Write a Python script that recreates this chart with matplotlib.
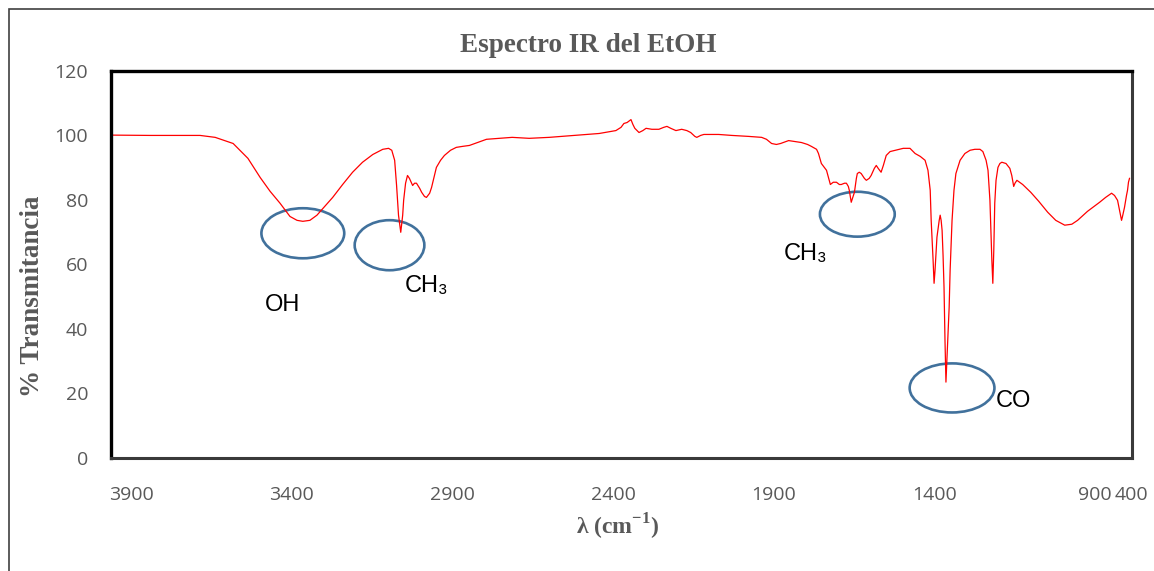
import numpy as np
import matplotlib
matplotlib.use("Agg")
import matplotlib.pyplot as plt
from matplotlib.patches import Ellipse, Rectangle

plt.rcParams["mathtext.fontset"] = "custom"
plt.rcParams["mathtext.rm"] = "Liberation Serif"
plt.rcParams["mathtext.bf"] = "Liberation Serif:bold"

# spectrum (cm-1 as shown on the axis, % transmittance)
wavenumber = [3965, 3841, 3686, 3639, 3583, 3537, 3499, 3468, 3437, 3406,
              3384, 3366, 3344, 3322, 3298, 3273, 3242, 3211, 3180, 3148,
              3117, 3099, 3089, 3080, 3074, 3068, 3061, 3055, 3052, 3046,
              3040, 3034, 3024, 3018, 3012, 3002, 2996, 2987, 2981, 2971,
              2965, 2956, 2950, 2937, 2925, 2906, 2888, 2869, 2847, 2822,
              2794, 2754, 2714, 2661, 2599, 2521, 2443, 2391, 2375, 2366,
              2356, 2344, 2338, 2332, 2319, 2307, 2297, 2279, 2257, 2242,
              2232, 2220, 2204, 2186, 2170, 2158, 2145, 2139, 2127, 2117,
              2071, 2030, 1978, 1937, 1922, 1906, 1891, 1878, 1853, 1832,
              1813, 1794, 1782, 1766, 1760, 1751, 1742, 1735, 1729, 1723,
              1714, 1704, 1695, 1689, 1679, 1673, 1667, 1664, 1658, 1652,
              1648, 1642, 1639, 1633, 1627, 1617, 1611, 1602, 1596, 1586,
              1580, 1574, 1565, 1558, 1549, 1537, 1521, 1496, 1475, 1459,
              1443, 1428, 1419, 1412, 1409, 1403, 1400, 1397, 1391, 1384,
              1381, 1378, 1375, 1372, 1369, 1366, 1363, 1360, 1356, 1353,
              1350, 1344, 1338, 1332, 1319, 1304, 1288, 1273, 1257, 1248,
              1238, 1232, 1226, 1223, 1220, 1217, 1214, 1211, 1207, 1201,
              1195, 1189, 1176, 1164, 1158, 1152, 1148, 1142, 1124, 1099,
              1074, 1046, 1021, 993, 971, 953, 922, 832, 751, 670,
              630, 589, 562, 535, 522, 495, 468, 454, 441, 427]
transmittance = [100.0, 99.9, 99.9, 99.3, 97.4, 92.8, 86.9, 82.6, 78.9, 74.8,
                 73.6, 73.3, 73.6, 75.2, 77.9, 80.7, 84.7, 88.5, 91.6, 94.0,
                 95.6, 95.9, 95.3, 92.2, 84.4, 75.2, 69.9, 75.2, 79.8, 85.1,
                 87.5, 86.6, 84.4, 85.1, 85.1, 83.5, 82.3, 81.0, 80.7, 82.0,
                 83.8, 87.5, 90.0, 92.2, 93.7, 95.3, 96.2, 96.5, 96.8, 97.7,
                 98.7, 99.0, 99.3, 99.0, 99.3, 99.9, 100.5, 101.4, 102.4, 103.6,
                 103.9, 104.8, 103.3, 102.1, 100.8, 101.4, 102.1, 101.8, 101.8, 102.4,
                 102.7, 102.1, 101.4, 101.8, 101.4, 100.8, 99.6, 99.3, 99.9, 100.2,
                 100.2, 99.9, 99.6, 99.3, 98.7, 97.4, 97.1, 97.4, 98.3, 98.0,
                 97.7, 97.1, 96.5, 95.6, 94.3, 91.2, 90.0, 89.1, 86.9, 84.7,
                 85.4, 85.4, 84.7, 84.7, 85.1, 85.1, 84.1, 82.9, 79.2, 81.0,
                 82.3, 86.6, 88.1, 88.5, 88.1, 86.6, 86.0, 86.6, 87.5, 89.7,
                 90.6, 89.7, 88.5, 90.6, 93.7, 94.9, 95.3, 95.9, 95.9, 94.3,
                 93.4, 92.2, 89.1, 82.9, 73.6, 61.2, 54.1, 58.1, 68.4, 73.6,
                 75.2, 73.6, 70.5, 62.8, 52.9, 36.5, 23.5, 30.3, 39.6, 46.7,
                 58.1, 73.6, 82.9, 88.1, 92.2, 94.3, 95.3, 95.6, 95.6, 94.9,
                 92.2, 89.1, 79.8, 70.5, 61.2, 54.1, 64.3, 78.9, 86.0, 90.0,
                 91.2, 91.6, 91.2, 89.7, 87.5, 84.1, 85.1, 86.0, 84.7, 82.3,
                 79.5, 76.1, 73.6, 72.1, 72.4, 73.6, 76.4, 79.2, 80.7, 82.0,
                 81.3, 79.8, 76.7, 73.6, 74.8, 77.6, 81.3, 82.9, 85.4, 86.6]

x_ticks = [3900, 3400, 2900, 2400, 1900, 1400, 900, 400]
y_ticks = [0, 20, 40, 60, 80, 100, 120]

# marked bands: label, ellipse centre / size, label position
band_labels = ["OH", "CH₃", "CH₃", "CO"]
ellipse_x = [3366, 3096, 1639, 1344]
ellipse_y = [69.6, 65.9, 75.5, 21.7]
ellipse_w = [258, 217, 233, 264]
ellipse_h = [15.5, 15.5, 13.9, 15.2]
label_x = [3428, 2981, 1801, 1152]
label_y = [47.3, 53.2, 63.1, 17.6]

# the axis below 900 cm-1 is squeezed (Excel category axis)
K = 37 / 161


def fwd(w):
    w = np.asarray(w, float)
    return np.where(w >= 900, w, 900 - (900 - w) * K)


def inv(t):
    t = np.asarray(t, float)
    return np.where(t >= 900, t, 900 - (900 - t) / K)


fig = plt.figure(figsize=(11.54, 5.71), dpi=100)
ax = fig.add_axes([110.5 / 1154, 0.1979, 1021 / 1154, 0.6786])

ax.set_xscale("function", functions=(fwd, inv))
ax.plot(wavenumber, transmittance, color="#ff0000", lw=0.9)

ax.set_xlim(3965, 400)
ax.set_ylim(0, 120)
ax.set_xticks(x_ticks)
ax.set_xticklabels([str(v) for v in x_ticks])
ax.set_yticks(y_ticks)
ax.minorticks_off()

for lab in ax.get_xticklabels() + ax.get_yticklabels():
    lab.set_fontfamily("Open Sans")
    lab.set_fontsize(14)
    lab.set_color("#595959")
ax.tick_params(axis="both", length=0)
ax.tick_params(axis="y", pad=16)
ax.tick_params(axis="x", pad=20)

for side in ["left", "top"]:
    ax.spines[side].set_linewidth(2.4)
    ax.spines[side].set_color("black")
for side in ["right", "bottom"]:
    ax.spines[side].set_linewidth(2.2)
    ax.spines[side].set_color("#3a3a3a")

for ex, ey, ew, eh in zip(ellipse_x, ellipse_y, ellipse_w, ellipse_h):
    ax.add_patch(Ellipse((ex, ey), ew, eh, fill=False, ec="#41719C", lw=1.9))

for txt, lx, ly in zip(band_labels, label_x, label_y):
    ax.text(lx, ly, txt, ha="center", va="center", fontsize=17,
            family=["Liberation Sans", "DejaVu Sans"], color="black")

serif = ["Liberation Serif", "DejaVu Serif"]
fig.text(588 / 1154, 1 - 46 / 571, "Espectro IR del EtOH", ha="center", va="center",
         fontsize=19.5, fontweight="bold", family=serif, color="#595959")
fig.text(618 / 1154, 1 - 527 / 571, "λ (cm$^{\\mathbf{-1}}$)", ha="center", va="center",
         fontsize=17, fontweight="bold", family=serif, color="#595959")
fig.text(33 / 1154, 1 - 296 / 571, "% Transmitancia", ha="center", va="center",
         rotation=90, fontsize=19.5, fontweight="bold", family=serif, color="#595959")

# outer chart frame
fig.patches.append(Rectangle((9 / 1154, -0.1), 1.2, 1 - 9 / 571 + 0.1,
                             transform=fig.transFigure, fill=False,
                             ec="#404040", lw=1.2))

fig.savefig("out.png", dpi=100)
